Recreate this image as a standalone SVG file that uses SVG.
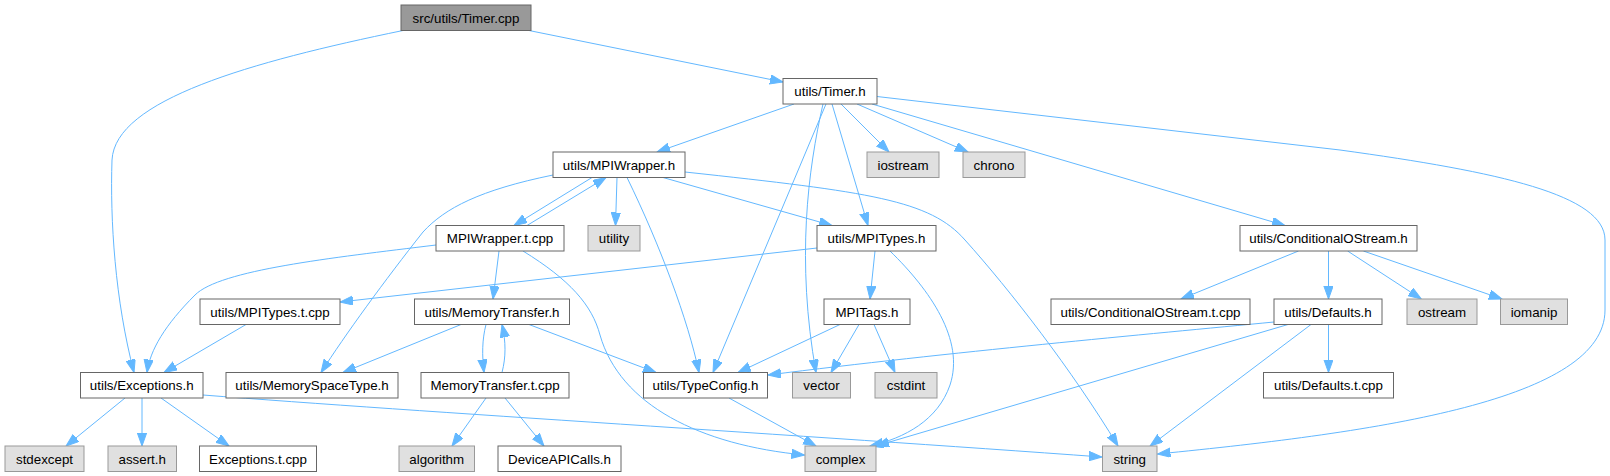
<svg xmlns="http://www.w3.org/2000/svg" width="1610" height="476" viewBox="0 0 1610 476">
<style>
.n rect{fill:#ffffff;stroke:#666666;stroke-width:1}
.s rect{fill:#e0e0e0;stroke:#999999;stroke-width:1}
.r rect{fill:#999999;stroke:#666666;stroke-width:1}
text{font-family:"Liberation Sans",Arial,Helvetica,sans-serif;font-size:13.33px;fill:#000000;text-anchor:middle}
#edges path{fill:none;stroke:#63b8ff;stroke-width:1;marker-end:url(#a)}
</style>
<defs>
<marker id="a" markerUnits="userSpaceOnUse" markerWidth="14" markerHeight="10" refX="13" refY="4.65" orient="auto" viewBox="0 0 14 10">
<path d="M0,0 L13,4.65 L0,9.3 z" fill="#63b8ff" stroke="#63b8ff" stroke-width="1"/>
</marker>
</defs>
<rect width="1610" height="476" fill="#ffffff"/>
<g id="edges">
<path d="M403,30.5 C 250,62 115,100 112,160 C 110,220 115,300 134,372.5"/>
<path d="M529,30.5 L783,82"/>
<path d="M794,104 L657,152"/>
<path d="M841,104 L889,152"/>
<path d="M857,104 L968,152"/>
<path d="M872,104 L1285,225.5"/>
<path d="M877,96.5 L1340,150 C 1500,172 1605,195 1605,240 L1605,310 C 1605,400 1380,432 1157.5,454"/>
<path d="M832,104 L868,225.5"/>
<path d="M826,104 L713,372.5"/>
<path d="M823,104 C 808,170 796,260 816,372.5"/>
<path d="M592,177.5 L514,225.5"/>
<path d="M527,225.5 L606,177.5"/>
<path d="M617,177.5 L615.5,225.5"/>
<path d="M663,177.5 L832,225.5"/>
<path d="M627,177.5 C 660,245 688,320 699,372.5"/>
<path d="M553,175 C 480,190 445,208 423,232 C 385,280 345,335 321,372.5"/>
<path d="M685,172 C 870,192 930,200 965,240 C 1010,290 1072,370 1118,446"/>
<path d="M436,245 C 330,258 220,270 195,295 C 165,325 150,350 147,372.5"/>
<path d="M499,251 L493,299"/>
<path d="M523,251 C 570,280 592,305 600,335 C 620,405 700,445 804.5,455"/>
<path d="M817,248 L340,302"/>
<path d="M875,251 L870,299"/>
<path d="M890,251 C 930,290 965,340 950,385 C 938,420 905,438 870,446"/>
<path d="M1298.5,251 L1181,299"/>
<path d="M1328.5,251 L1328.5,299"/>
<path d="M1347.6,251 L1421.3,299"/>
<path d="M1363.4,251 L1502,299"/>
<path d="M246,324.5 L164,372.5"/>
<path d="M461,324.5 L343,372.5"/>
<path d="M486,324.5 C 482,340 482,355 484,372.5"/>
<path d="M502,372.5 C 506,357 506,342 502,324.5"/>
<path d="M529,324.5 L656,372.5"/>
<path d="M840,324.5 L738,372.5"/>
<path d="M859,324.5 L831,372.5"/>
<path d="M874,324.5 L895,372.5"/>
<path d="M1274,322 C 1150,334 950,352 768,375"/>
<path d="M1288,324.5 L876,446"/>
<path d="M1311,324.5 L1150,446"/>
<path d="M1328.5,324.5 L1328.5,372.5"/>
<path d="M729,398 L816,446"/>
<path d="M125,398 L66,446"/>
<path d="M142,398 L142,446"/>
<path d="M161,398 L229,446"/>
<path d="M203,395 C 420,412 800,435 1102,457"/>
<path d="M486,398 L452,446"/>
<path d="M505,398 L544,446"/>
</g>
<g id="timer_cpp" class="r"><rect x="401" y="5" width="130" height="25.5"/><text x="466" y="22.5">src/utils/Timer.cpp</text></g>
<g id="timer_h" class="n"><rect x="783" y="78.5" width="94" height="25.5"/><text x="830" y="96">utils/Timer.h</text></g>
<g id="mpiwrapper_h" class="n"><rect x="553" y="152" width="132" height="25.5"/><text x="619" y="169.5">utils/MPIWrapper.h</text></g>
<g id="iostream" class="s"><rect x="867" y="152" width="72" height="25.5"/><text x="903" y="169.5">iostream</text></g>
<g id="chrono" class="s"><rect x="963" y="152" width="62" height="25.5"/><text x="994" y="169.5">chrono</text></g>
<g id="mpiwrapper_tcpp" class="n"><rect x="436" y="225.5" width="128" height="25.5"/><text x="500" y="243">MPIWrapper.t.cpp</text></g>
<g id="utility" class="s"><rect x="588" y="225.5" width="52" height="25.5"/><text x="614" y="243">utility</text></g>
<g id="mpitypes_h" class="n"><rect x="817" y="225.5" width="119" height="25.5"/><text x="876.5" y="243">utils/MPITypes.h</text></g>
<g id="condostream_h" class="n"><rect x="1240" y="225.5" width="177" height="25.5"/><text x="1328.5" y="243">utils/ConditionalOStream.h</text></g>
<g id="mpitypes_tcpp" class="n"><rect x="200" y="299" width="140" height="25.5"/><text x="270" y="316.5">utils/MPITypes.t.cpp</text></g>
<g id="memtransfer_h" class="n"><rect x="414.5" y="299" width="155" height="25.5"/><text x="492" y="316.5">utils/MemoryTransfer.h</text></g>
<g id="mpitags_h" class="n"><rect x="824" y="299" width="86" height="25.5"/><text x="867" y="316.5">MPITags.h</text></g>
<g id="condostream_tcpp" class="n"><rect x="1051" y="299" width="199" height="25.5"/><text x="1150.5" y="316.5">utils/ConditionalOStream.t.cpp</text></g>
<g id="defaults_h" class="n"><rect x="1274" y="299" width="108" height="25.5"/><text x="1328" y="316.5">utils/Defaults.h</text></g>
<g id="ostream" class="s"><rect x="1407" y="299" width="70" height="25.5"/><text x="1442" y="316.5">ostream</text></g>
<g id="iomanip" class="s"><rect x="1500.5" y="299" width="67" height="25.5"/><text x="1534" y="316.5">iomanip</text></g>
<g id="exceptions_h" class="n"><rect x="80.5" y="372.5" width="122.5" height="25.5"/><text x="141.7" y="390">utils/Exceptions.h</text></g>
<g id="memspacetype_h" class="n"><rect x="226" y="372.5" width="172" height="25.5"/><text x="312" y="390">utils/MemorySpaceType.h</text></g>
<g id="memtransfer_tcpp" class="n"><rect x="421" y="372.5" width="148" height="25.5"/><text x="495" y="390">MemoryTransfer.t.cpp</text></g>
<g id="typeconfig_h" class="n"><rect x="643.5" y="372.5" width="124" height="25.5"/><text x="705.5" y="390">utils/TypeConfig.h</text></g>
<g id="vector" class="s"><rect x="792.5" y="372.5" width="58" height="25.5"/><text x="821.5" y="390">vector</text></g>
<g id="cstdint" class="s"><rect x="875" y="372.5" width="62" height="25.5"/><text x="906" y="390">cstdint</text></g>
<g id="defaults_tcpp" class="n"><rect x="1263.5" y="372.5" width="130" height="25.5"/><text x="1328.5" y="390">utils/Defaults.t.cpp</text></g>
<g id="stdexcept" class="s"><rect x="5" y="446" width="79" height="25.5"/><text x="44.5" y="463.5">stdexcept</text></g>
<g id="assert_h" class="s"><rect x="108" y="446" width="68.5" height="25.5"/><text x="142.2" y="463.5">assert.h</text></g>
<g id="exceptions_tcpp" class="n"><rect x="199.5" y="446" width="117" height="25.5"/><text x="258" y="463.5">Exceptions.t.cpp</text></g>
<g id="algorithm" class="s"><rect x="399" y="446" width="75.5" height="25.5"/><text x="436.7" y="463.5">algorithm</text></g>
<g id="deviceapicalls_h" class="n"><rect x="498" y="446" width="123" height="25.5"/><text x="559.5" y="463.5">DeviceAPICalls.h</text></g>
<g id="complex" class="s"><rect x="805" y="446" width="71" height="25.5"/><text x="840.5" y="463.5">complex</text></g>
<g id="string" class="s"><rect x="1102.5" y="446" width="54.5" height="25.5"/><text x="1129.7" y="463.5">string</text></g>
</svg>
